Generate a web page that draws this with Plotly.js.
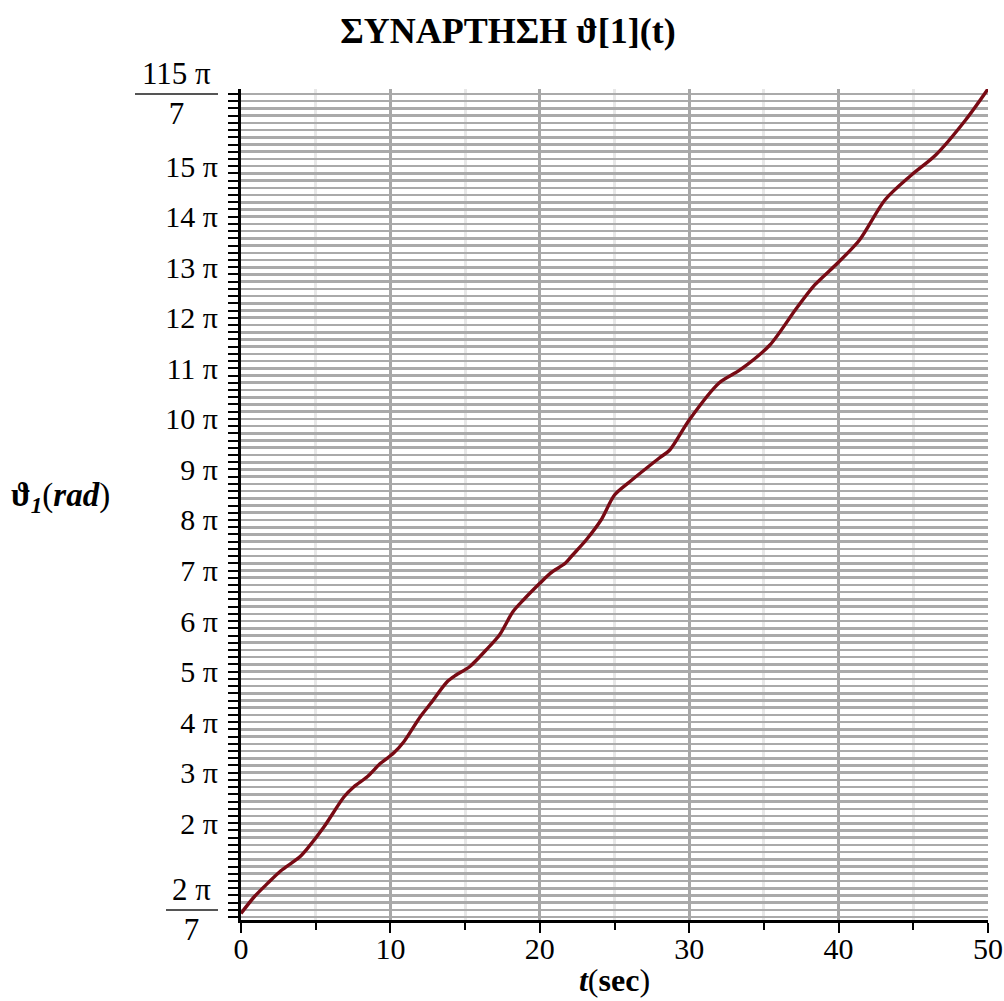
<!DOCTYPE html>
<html>
<head>
<meta charset="utf-8">
<script src="https://cdn.plot.ly/plotly-3.0.1.min.js"></script>
<style>html,body{margin:0;padding:0;background:#fff;}#chart{width:1004px;height:1001px;}</style>
</head>
<body>
<div id="chart"></div>
<script>
// time (sec)
var tValues = [0, 0.89, 1.78, 2.67, 3.9, 4.45, 5.56, 6.9, 7.56, 8.45, 9.34, 10.2, 10.9, 12.0, 12.7, 13.8, 14.4, 15.3, 16.4, 17.3, 18.2, 18.9, 20.0, 20.7, 21.7, 22.2, 23.1, 24.1, 25.0, 26.0, 28.0, 28.7, 30.0, 32.0, 33.4, 35.4, 37.1, 38.4, 39.8, 41.4, 43.1, 44.8, 46.5, 48.5, 50.0];
// theta_1 (rad)
var thetaValues = [0.68, 1.715, 2.548, 3.332, 4.164, 4.724, 6.067, 7.931, 8.553, 9.175, 10.008, 10.629, 11.351, 12.905, 13.737, 15.080, 15.496, 16.013, 17.050, 17.983, 19.431, 20.159, 21.196, 21.818, 22.440, 22.956, 23.888, 25.131, 26.685, 27.494, 28.985, 29.483, 31.348, 33.647, 34.456, 36.010, 38.185, 39.739, 40.982, 42.536, 45.023, 46.515, 47.820, 49.996, 51.923];

var PI = Math.PI;
var xTickVals = [0, 10, 20, 30, 40, 50];
var xTickText = ["0", "10", "20", "30", "40", "50"];
var yTickVals = [2*PI, 3*PI, 4*PI, 5*PI, 6*PI, 7*PI, 8*PI, 9*PI, 10*PI, 11*PI, 12*PI, 13*PI, 14*PI, 15*PI];
var yTickText = ["2 π", "3 π", "4 π", "5 π", "6 π", "7 π", "8 π", "9 π", "10 π", "11 π", "12 π", "13 π", "14 π", "15 π"];
// fraction-valued end ticks
var fracTickVals = [2*PI/7, 115*PI/7];
var fracNumerators = ["2 π", "115 π"];
var fracDenominators = ["7", "7"];

var serif = "Liberation Serif, Times New Roman, serif";
var labelFont = {family: serif, size: 30, color: "#000000"};

var trace = {
  x: tValues,
  y: thetaValues,
  type: "scatter",
  mode: "lines",
  line: {color: "#780a14", width: 3.4, shape: "spline", smoothing: 0.8},
  hoverinfo: "none"
};

// fraction labels as annotations + bars, centred on their tick values
var fracX = [-0.0656, -0.087];
var fracBarX0 = [-0.1004, -0.1419];
var annotations = [];
var shapes = [];
for (var i = 0; i < fracTickVals.length; i++) {
  annotations.push({
    text: fracNumerators[i] + "<br>" + fracDenominators[i],
    xref: "paper", yref: "y",
    x: fracX[i], xanchor: "center",
    y: fracTickVals[i], yanchor: "middle",
    align: "center", showarrow: false,
    font: {family: serif, size: 31, color: "#000000"}
  });
  shapes.push({
    type: "line", xref: "paper", yref: "y",
    x0: fracBarX0[i], x1: -0.0308,
    y0: fracTickVals[i], y1: fracTickVals[i],
    line: {color: "#555555", width: 2}
  });
}
annotations.push({
  text: "<b>ϑ</b><sub><b><i>1</i></b></sub>(<b><i>rad</i></b>)",
  xref: "paper", yref: "paper",
  x: -0.311, xanchor: "left",
  y: 0.509, yanchor: "middle",
  showarrow: false,
  font: {family: serif, size: 33, color: "#000000"}
});

var layout = {
  width: 1004,
  height: 1001,
  margin: {l: 241, r: 16, t: 89, b: 81, pad: 0},
  paper_bgcolor: "#ffffff",
  plot_bgcolor: "#ffffff",
  showlegend: false,
  font: {family: serif, color: "#000000"},
  title: {
    text: "<b>ΣΥΝΑΡΤΗΣΗ ϑ[1](t)</b>",
    font: {family: serif, size: 36, color: "#000000"},
    x: 0.506, xanchor: "center",
    y: 0.970, yanchor: "middle", yref: "container"
  },
  xaxis: {
    range: [0, 50],
    tickmode: "array",
    tickvals: xTickVals,
    ticktext: xTickText,
    ticks: "outside", ticklen: 10, tickwidth: 2, tickcolor: "#000000",
    ticklabelstandoff: -10,
    showline: true, linecolor: "#000000", linewidth: 3,
    showgrid: true, gridcolor: "#a8a8a8", gridwidth: 3,
    zeroline: false,
    tickfont: labelFont,
    minor: {dtick: 5, tick0: 0, ticks: "outside", ticklen: 7, tickwidth: 2, tickcolor: "#000000",
            showgrid: true, gridcolor: "#e8e8e8", gridwidth: 3},
    title: {text: "<b><i>t</i></b>(<b>sec</b>)", font: {family: serif, size: 32, color: "#000000"}, standoff: 5}
  },
  yaxis: {
    range: [0.27, 51.92],
    tickmode: "array",
    tickvals: yTickVals,
    ticktext: yTickText,
    ticks: "outside", ticklen: 10, tickwidth: 2, tickcolor: "#000000",
    ticklabelstandoff: 4,
    showline: true, linecolor: "#000000", linewidth: 3,
    showgrid: true, gridcolor: "#aaaaaa", gridwidth: 2.6,
    zeroline: false,
    tickfont: labelFont,
    minor: {tick0: 0, dtick: PI/7, ticks: "outside", ticklen: 10, tickwidth: 2, tickcolor: "#000000",
            showgrid: true, gridcolor: "#aaaaaa", gridwidth: 2.6}
  },
  annotations: annotations,
  shapes: shapes
};

Plotly.newPlot("chart", [trace], layout, {displayModeBar: false, staticPlot: true});
</script>
</body>
</html>
